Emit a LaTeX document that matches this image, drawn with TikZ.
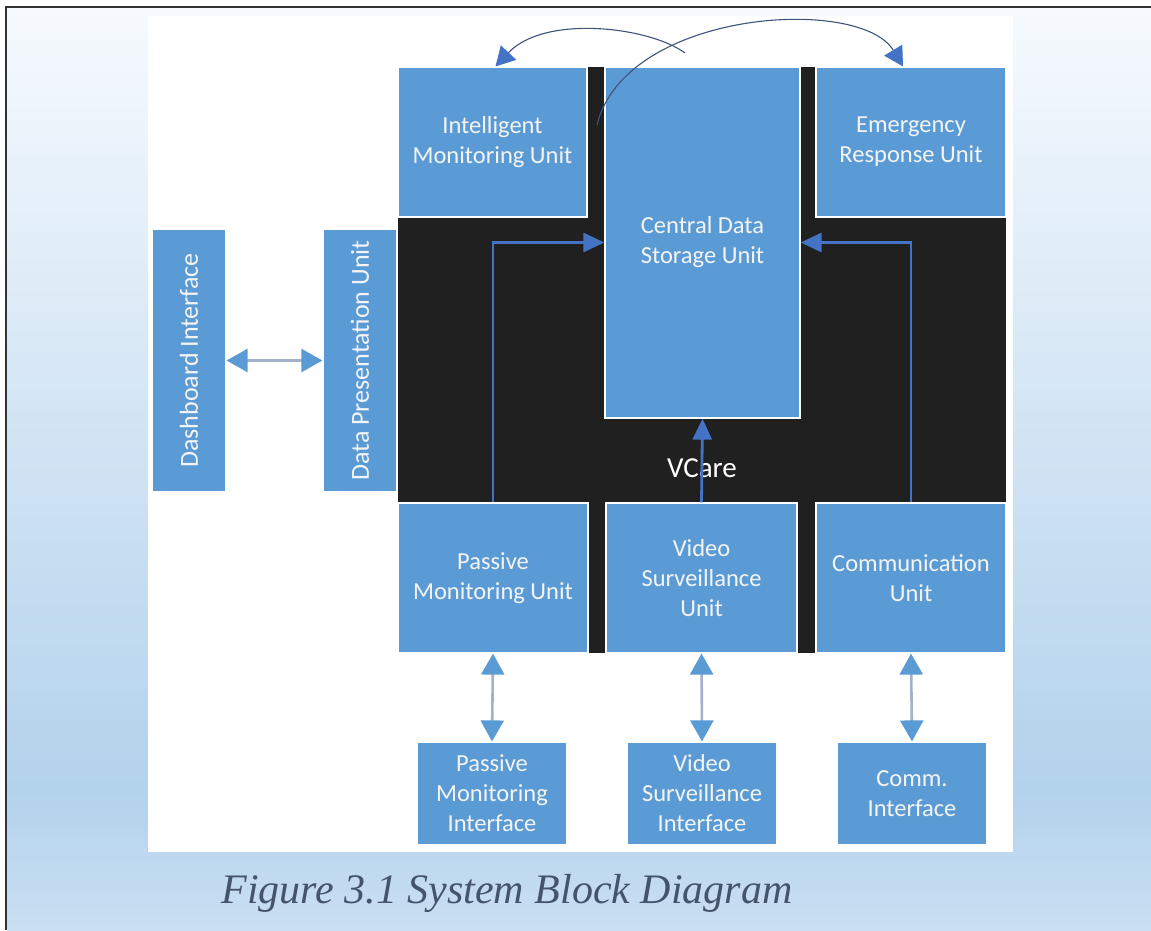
\documentclass[tikz,border=0pt]{standalone}
\usepackage{fontspec}
\setmainfont{Liberation Serif}
\newfontfamily\boxfont{Carlito}
\usetikzlibrary{arrows.meta,calc}
\definecolor{boxblue}{HTML}{5B9BD5}
\definecolor{arrowblue}{HTML}{4472C4}
\definecolor{corebg}{HTML}{202020}
\definecolor{shaftgrey}{HTML}{A3B2CA}
\definecolor{arcline}{HTML}{3F5478}
\definecolor{boxtext}{HTML}{F4F4F4}
\definecolor{captext}{HTML}{44546A}
\definecolor{pagetop}{HTML}{F6FAFE}
\definecolor{pagemid}{HTML}{B3D2EC}
\definecolor{pagebot}{HTML}{CADFF2}
\definecolor{framegrey}{HTML}{333333}
\begin{document}
\begin{tikzpicture}[x=1pt,y=-1pt,
  unit/.style={draw=white, line width=1.2pt, fill=boxblue, text=boxtext,
    align=center, inner sep=2pt, font=\boxfont\fontsize{24.5}{30}\selectfont},
  upright/.style={unit, rotate=90, font=\boxfont\fontsize{26}{30}\selectfont},
  feed/.style={draw=arrowblue, line width=2.8pt,
    -{Triangle[length=21pt,width=19pt]}},
  link/.style={draw=shaftgrey, line width=2.6pt,
    {Triangle[length=21pt,width=23pt,color=boxblue]}-{Triangle[length=21pt,width=23pt,color=boxblue]}},
  swing/.style={draw=arcline, line width=1.1pt,
    -{Triangle[length=19pt,width=21pt,color=arrowblue]}}]
\useasboundingbox (0,0) rectangle (1151,930);
\fill[white] (0,0) rectangle (1151,930);
% page background with its frame
\shade[top color=pagetop, bottom color=pagemid] (7,8) rectangle (1151,790);
\shade[top color=pagemid, bottom color=pagebot] (7,790) rectangle (1151,930);
\draw[framegrey, line width=2pt] (6,930) -- (6,7) -- (1151,7);
% white drawing panel
\fill[white] (148,16) rectangle (1013,852);
% dark core of the system
\fill[corebg] (398,67) rectangle (1006,653);
\node[font=\boxfont\fontsize{29}{34}\selectfont, text=white] (brand) at (702,468) {VCare};

% left column
\node[upright, minimum width=263pt, minimum height=74pt] (dash) at (189,360.5) {Dashboard Interface};
\node[upright, minimum width=263pt, minimum height=74pt] (dpu) at (360,360.5) {Data Presentation Unit};

% upper units
\node[unit, minimum width=189pt, minimum height=150pt] (ims) at (492.5,142) {Intelligent\\Monitoring Unit};
\node[unit, minimum width=195pt, minimum height=351pt] (cds) at (702.5,242.5) {Central Data\\Storage Unit};
\node[unit, minimum width=190pt, minimum height=150pt] (eru) at (911,142) {Emergency\\Response Unit};

% lower units
\node[unit, minimum width=190pt, minimum height=150pt] (pmu) at (493,578) {Passive\\Monitoring Unit};
\node[unit, minimum width=191pt, minimum height=150pt] (vsu) at (701.5,578) {Video\\Surveillance\\Unit};
\node[unit, minimum width=190pt, minimum height=150pt] (cmu) at (911,578) {Communication\\Unit};

% interfaces
\node[unit, minimum width=150pt, minimum height=103pt] (pmi) at (492,793.5) {Passive\\Monitoring\\Interface};
\node[unit, minimum width=150pt, minimum height=103pt] (vsi) at (702,793.5) {Video\\Surveillance\\Interface};
\node[unit, minimum width=150pt, minimum height=103pt] (cmi) at (912,793.5) {Comm.\\Interface};

% data flowing into central storage
\draw[feed] (pmu.north) |- (cds.west);
\draw[feed] (cmu.north) |- (cds.east);
\draw[feed] (vsu.north) -- (cds.south);

% two-way links
\draw[link] (dash) -- (dpu);
\draw[link] (pmu.south) -- (pmi.north);
\draw[link] (vsu.south) -- (vsi.north);
\draw[link] (cmu.south) -- (cmi.north);

% curved links over the top
\coordinate (fromcds) at (685,53);
\coordinate (fromims) at (597,125);
\draw[swing] (fromcds) .. controls (650,27) and (545,14) .. ($(ims.north)+(3,0)$);
\draw[swing] (fromims) .. controls (625,10) and (860,-5) .. ($(eru.north)+(-8,0)$);

% caption
\node[font=\itshape\fontsize{42}{50}\selectfont, text=captext] (cap) at (507,893) {Figure 3.1 System Block Diagram};
\end{tikzpicture}
\end{document}
